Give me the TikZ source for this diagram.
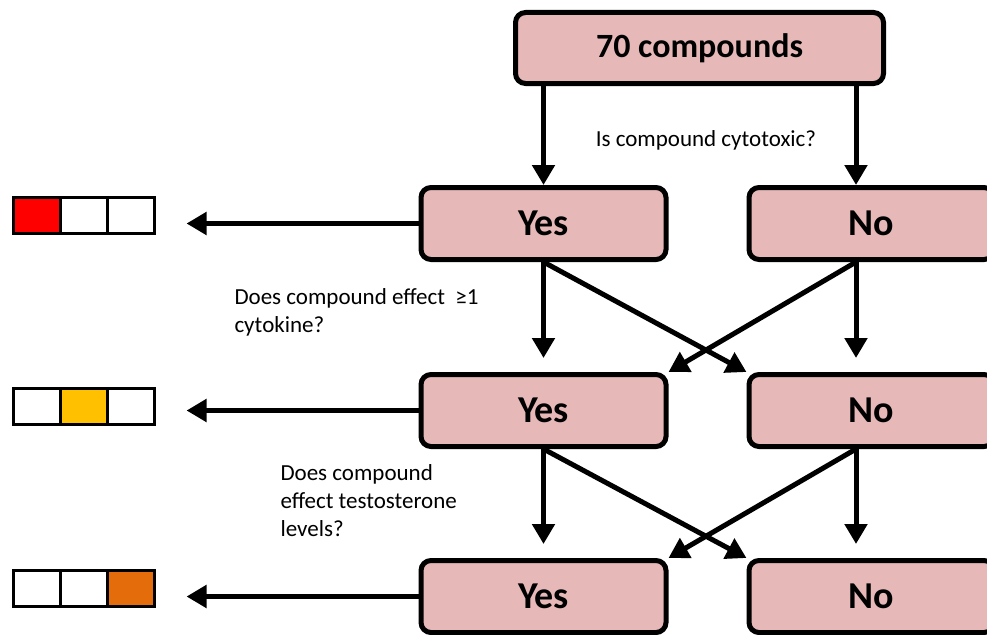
\documentclass[tikz,border=0pt]{standalone}
\usepackage{fontspec}
\setmainfont{Carlito}
\usetikzlibrary{arrows.meta, positioning}

\definecolor{boxpink}{RGB}{230,185,184}
\definecolor{barred}{RGB}{255,0,0}
\definecolor{baryellow}{RGB}{255,192,0}
\definecolor{barorange}{RGB}{228,108,10}

\begin{document}
\begin{tikzpicture}[x=1pt, y=1pt, line width=5pt, ->, >={Triangle[length=20pt, width=22pt]}]
	\tikzset {box/.style={draw, rounded corners=10pt, fill=boxpink, minimum width=245pt, minimum height=72pt, font=\fontsize{38}{40}\selectfont\bfseries},
		cell/.style={draw, line width=3pt, minimum width=47pt, minimum height=36pt, inner sep=0pt, outer sep=0pt},
		question/.style={align=left, inner sep=0pt, font=\fontsize{23}{28}\selectfont} }

	\useasboundingbox (0,0) rectangle (987,-634);

	\node[box, minimum width=368pt, minimum height=71pt, font=\fontsize{34}{36}\selectfont\bfseries] (top) at (699.5,-48) {70 compounds};
	\node[box] (yes1) at (543.5,-223.5) {Yes};
	\node[box, right=78pt of yes1] (no1) {No};
	\node[box, below=110pt of yes1] (yes2) {Yes};
	\node[box, right=78pt of yes2] (no2) {No};
	\node[box, below=109pt of yes2] (yes3) {Yes};
	\node[box, right=78pt of yes3] (no3) {No};
	\coordinate (nx) at ([xshift=-30pt]top.south east);

	% result bars
	\node[cell, left=264pt of yes1, yshift=8pt] (b13) {};
	\node[cell, left=0pt of b13] (b12) {};
	\node[cell, fill=barred, left=0pt of b12] (b11) {};
	\node[cell, left=264pt of yes2, yshift=4pt] (b23) {};
	\node[cell, fill=baryellow, left=0pt of b23] (b22) {};
	\node[cell, left=0pt of b22] (b21) {};
	\node[cell, fill=barorange, left=264pt of yes3, yshift=8pt] (b33) {};
	\node[cell, left=0pt of b33] (b32) {};
	\node[cell, left=0pt of b32] (b31) {};

	\node[question] (q1) at (706,-140) {Is compound cytotoxic?};
	\node[question, anchor=north west] (q2) at (232,-286) {Does compound effect~~≥1\\cytokine?};
	\node[question, anchor=north west] (q3) at (278,-462) {Does compound\\effect testosterone\\levels?};

	\draw (top.south -| yes1) -- (yes1);
	\draw (nx) -- (nx |- no1.north);
	\draw[shorten >=14pt] (yes1) -- (yes2);
	\draw (yes1.south) -- (no2.north west);
	\draw (nx |- no1.south) -- (yes2.north east);
	\draw[shorten >=14pt] (nx |- no1.south) -- (nx |- no2.north);
	\draw[shorten >=14pt] (yes2) -- (yes3);
	\draw (yes2.south) -- (no3.north west);
	\draw (nx |- no2.south) -- (yes3.north east);
	\draw[shorten >=14pt] (nx |- no2.south) -- (nx |- no3.north);

	\draw[shorten >=32pt] (yes1.west) -- (yes1.west -| b13.east);
	\draw[shorten >=32pt] (yes2.west) -- (yes2.west -| b23.east);
	\draw[shorten >=32pt] (yes3.west) -- (yes3.west -| b33.east);
\end{tikzpicture}
\end{document}
